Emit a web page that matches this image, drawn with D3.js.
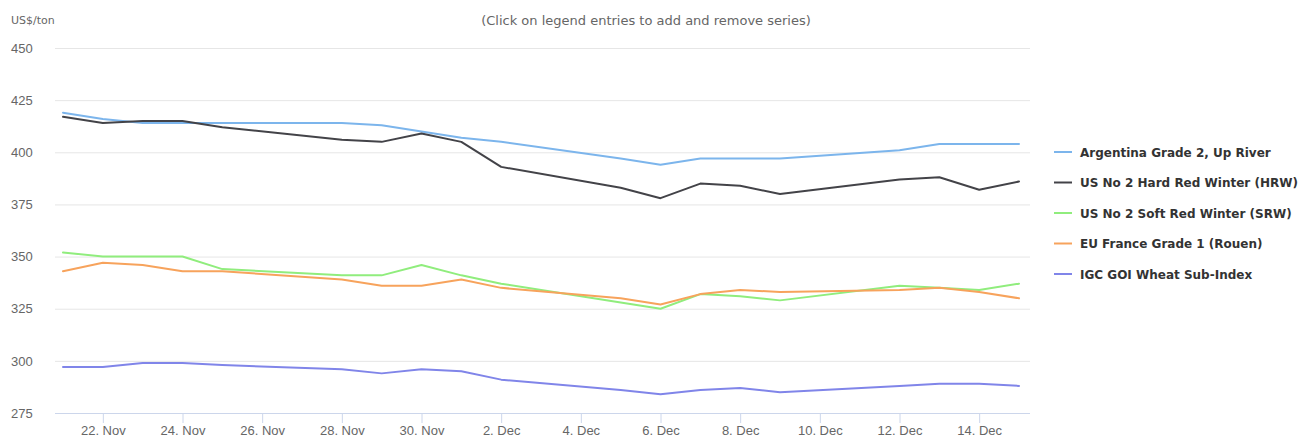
<!DOCTYPE html>
<html>
<head>
<meta charset="utf-8">
<script src="https://cdn.jsdelivr.net/npm/d3@7"></script>
<style>
  body { margin: 0; background: #fff; }
  svg { display: block; font-family: 'DejaVu Sans', sans-serif; }
</style>
</head>
<body>
<svg width="1304" height="439"></svg>
<script>
'use strict'

const svg = d3.select('body svg')
const parseTime = d3.timeParse('%Y-%m-%d')
const formatTime = d3.timeFormat('%-d. %b')

const days = [
  '2022-11-21', '2022-11-22', '2022-11-23', '2022-11-24', '2022-11-25',
  '2022-11-28', '2022-11-29', '2022-11-30', '2022-12-01', '2022-12-02',
  '2022-12-05', '2022-12-06', '2022-12-07', '2022-12-08', '2022-12-09',
  '2022-12-12', '2022-12-13', '2022-12-14', '2022-12-15'
]

const argentina = [419, 416, 414, 414, 414, 414, 413, 410, 407, 405, 397, 394, 397, 397, 397, 401, 404, 404, 404]
const hrw = [417, 414, 415, 415, 412, 406, 405, 409, 405, 393, 383, 378, 385, 384, 380, 387, 388, 382, 386]
const srw = [352, 350, 350, 350, 344, 341, 341, 346, 341, 337, 328, 325, 332, 331, 329, 336, 335, 334, 337]
const france = [343, 347, 346, 343, 343, 339, 336, 336, 339, 335, 330, 327, 332, 334, 333, 334, 335, 333, 330]
const igc = [297, 297, 299, 299, 298, 296, 294, 296, 295, 291, 286, 284, 286, 287, 285, 288, 289, 289, 288]

const seriesNames = [
  'Argentina Grade 2, Up River',
  'US No 2 Hard Red Winter (HRW)',
  'US No 2 Soft Red Winter (SRW)',
  'EU France Grade 1 (Rouen)',
  'IGC GOI Wheat Sub-Index'
]
const seriesValues = [argentina, hrw, srw, france, igc]
const colors = ['#7cb5ec', '#434348', '#90ed7d', '#f7a35c', '#8085e9']

const yTicks = [275, 300, 325, 350, 375, 400, 425, 450]
const xTicks = [
  '2022-11-22', '2022-11-24', '2022-11-26', '2022-11-28', '2022-11-30', '2022-12-02',
  '2022-12-04', '2022-12-06', '2022-12-08', '2022-12-10', '2022-12-12', '2022-12-14'
]

const plotLeft = 55
const plotRight = 1030
const plotTop = 48
const plotBottom = 413

const dates = days.map(parseTime)
const xScale = d3.scaleTime().domain(d3.extent(dates)).range([63, 1019])
const yScale = d3.scaleLinear().domain([275, 450]).range([plotBottom, plotTop])

// grid
const yAxis = d3.axisLeft(yScale)
  .tickValues(yTicks)
  .tickSize(-(plotRight - plotLeft))
  .tickPadding(18)
const yG = svg.append('g').attr('transform', `translate(${plotLeft}, 0)`).call(yAxis)
yG.select('path.domain').remove()
yG.selectAll('g.tick line').attr('stroke', '#e6e6e6')
yG.selectAll('g.tick text')
  .attr('fill', '#666')
  .style('font-size', '13px')
  .attr('text-anchor', 'start')
  .attr('x', -44)

const xAxis = d3.axisBottom(xScale)
  .tickValues(xTicks.map(parseTime))
  .tickFormat((d) => formatTime(d))
  .tickSize(10)
  .tickPadding(3)
const xG = svg.append('g').attr('transform', `translate(0, ${plotBottom})`).call(xAxis)
xG.select('path.domain')
  .attr('d', `M${plotLeft},0.5H${plotRight}`)
  .attr('stroke', '#ccd6eb')
xG.selectAll('g.tick line').attr('stroke', '#ccd6eb')
xG.selectAll('g.tick text')
  .attr('fill', '#666')
  .style('font-size', '13px')

// lines
const line = d3.line()
  .x((d, i) => xScale(dates[i]))
  .y((d) => yScale(d))

svg.append('g').selectAll('path.series')
  .data(seriesValues)
  .enter()
  .append('path').classed('series', true)
  .attr('d', (d) => line(d))
  .attr('fill', 'none')
  .attr('stroke', (d, i) => colors[i])
  .attr('stroke-width', 2)
  .attr('stroke-linejoin', 'round')
  .attr('stroke-linecap', 'round')

// axis title and note
svg.append('text')
  .attr('x', 11).attr('y', 24)
  .attr('fill', '#666')
  .style('font-size', '11px')
  .text('US$/ton')

svg.append('text')
  .attr('x', 646).attr('y', 25)
  .attr('text-anchor', 'middle')
  .attr('fill', '#666')
  .style('font-size', '13px')
  .text('(Click on legend entries to add and remove series)')

// legend
const legend = svg.append('g').selectAll('g.item')
  .data(seriesNames)
  .enter()
  .append('g').classed('item', true)
  .attr('transform', (d, i) => `translate(1054, ${152 + i * 30.5})`)

legend.append('line')
  .attr('x1', 0).attr('x2', 18)
  .attr('y1', 0).attr('y2', 0)
  .attr('stroke', (d, i) => colors[i])
  .attr('stroke-width', 2)

legend.append('text')
  .attr('x', 26).attr('y', 4.5)
  .attr('fill', '#333')
  .style('font-size', '12px')
  .style('font-weight', 'bold')
  .text((d) => d)
</script>
</body>
</html>
